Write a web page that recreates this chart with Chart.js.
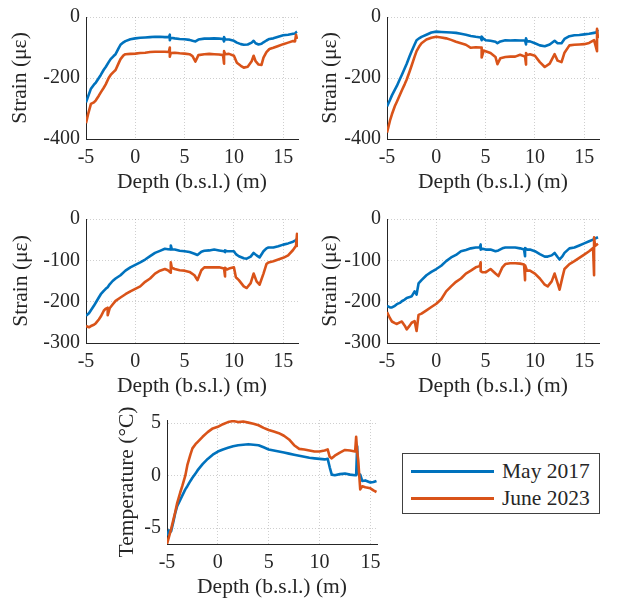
<!DOCTYPE html>
<html>
<head>
<meta charset="utf-8">
<script src="https://cdn.jsdelivr.net/npm/chart.js@4/dist/chart.umd.min.js"></script>
<style>
    body { margin: 0; background: #fff; }
    #wrap { position: relative; width: 620px; height: 605px; overflow: hidden; }
    canvas { position: absolute; }
    #legend {
        position: absolute; left: 402px; top: 453px; width: 196px; height: 59px;
        border: 1px solid #404040; background: #fff;
        font-family: 'Liberation Serif', serif; font-size: 21.5px; color: #262626;
    }
    .row { position: absolute; left: 0; height: 24px; }
    .row i { position: absolute; left: 8px; top: 11px; width: 83px; height: 2.5px; }
    .row span { position: absolute; left: 99px; top: 0; line-height: 24px; white-space: nowrap; }
</style>
</head>
<body>
<div id="wrap">
    <canvas id="c1"></canvas>
    <canvas id="c2"></canvas>
    <canvas id="c3"></canvas>
    <canvas id="c4"></canvas>
    <canvas id="c5"></canvas>
    <div id="legend">
        <div class="row" style="top:5px"><i style="background:#0072BD"></i><span>May 2017</span></div>
        <div class="row" style="top:32px"><i style="background:#D95319"></i><span>June 2023</span></div>
    </div>
</div>
<script>
const seriesNames = ['May 2017', 'June 2023'];

// panel 1 (top left), strain
const depth1 = [-5, -4.8, -4.5, -4.2, -4, -3.7, -3.5, -3.2, -3, -2.7, -2.5, -2.2, -2, -1.7, -1.5, -1.2, -1, -0.5, 0, 0.5, 1, 1.5, 2, 2.5, 3, 3.4, 3.5, 3.5, 3.6, 4, 4.5, 5, 5.5, 5.8, 6.1, 6.4, 7, 7.5, 8, 8.5, 8.9, 9, 9, 9.1, 9.5, 10, 10.3, 10.7, 11, 11.4, 11.8, 12, 12.2, 12.5, 12.8, 13, 13.3, 13.6, 14, 14.5, 15, 15.5, 16, 16.2, 16.3, 16.4];
const may1 = [-280, -262, -235, -222, -215, -200, -190, -173, -164, -148, -138, -128, -122, -103, -91, -83, -79, -73, -70, -68, -67, -66, -65, -65, -66, -66, -58, -76, -68, -70, -72, -73, -75, -78, -80, -74, -71, -71, -70, -71, -72, -80, -66, -73, -74, -78, -84, -89, -91, -90, -84, -78, -86, -90, -88, -83, -77, -72, -70, -65, -60, -58, -55, -54, -50, -48];
const june1 = [-348, -320, -285, -280, -273, -258, -247, -232, -221, -200, -190, -180, -174, -152, -138, -126, -122, -121, -120, -118, -117, -115, -114, -114, -114, -115, -100, -130, -118, -117, -119, -120, -122, -128, -146, -125, -122, -121, -122, -123, -125, -153, -112, -122, -121, -127, -150, -160, -166, -163, -145, -127, -145, -156, -157, -133, -115, -105, -101, -95, -89, -84, -79, -80, -58, -72];

// panel 2 (top right), strain
const depth2 = [-5, -4.7, -4.5, -4.2, -4, -3.7, -3.5, -3.2, -3, -2.7, -2.5, -2.2, -2, -1.7, -1.5, -1, -0.5, 0, 0.5, 1, 1.5, 2, 2.5, 3, 3.5, 4, 4.5, 4.6, 4.6, 4.8, 5, 5.5, 6, 6.2, 6.5, 7, 7.5, 8, 8.5, 9, 9.1, 9.1, 9.2, 9.5, 10, 10.5, 11, 11.5, 12, 12.3, 12.7, 13, 13.5, 14, 14.5, 15, 15.5, 16, 16.3, 16.3, 16.4];
const may2 = [-293, -272, -257, -238, -226, -204, -190, -168, -153, -128, -112, -90, -76, -69, -65, -58, -51, -48, -49, -50, -51, -52, -55, -58, -62, -65, -67, -76, -64, -72, -76, -78, -81, -86, -80, -76, -77, -76, -77, -77, -90, -70, -79, -80, -86, -93, -96, -90, -78, -86, -86, -72, -63, -60, -59, -57, -55, -52, -50, -44, -48];
const june2 = [-379, -340, -319, -292, -278, -256, -241, -220, -205, -178, -159, -130, -112, -95, -86, -74, -68, -65, -67, -70, -75, -81, -86, -91, -101, -99, -100, -100, -133, -110, -112, -118, -131, -155, -135, -131, -130, -130, -124, -130, -156, -118, -125, -122, -127, -148, -164, -153, -122, -143, -148, -117, -93, -91, -90, -89, -85, -76, -112, -39, -70];

// panel 3 (middle left), strain
const depth3 = [-5, -4.7, -4.5, -4.2, -4, -3.7, -3.5, -3.2, -3, -2.8, -2.8, -2.6, -2.3, -2, -1.5, -1, -0.5, 0, 0.5, 1, 1.5, 2, 2.5, 3, 3.3, 3.6, 3.6, 3.7, 4, 4.5, 5, 5.5, 6, 6.3, 6.7, 7, 7.5, 8, 8.5, 9, 9.1, 9.1, 9.3, 9.5, 10, 10.2, 10.5, 11, 11.3, 11.7, 12, 12.3, 12.6, 13, 13.3, 13.5, 14, 14.5, 15, 15.5, 16, 16.3, 16.4, 16.4, 16.5];
const may3 = [-234, -228, -221, -210, -202, -190, -182, -174, -169, -165, -165, -158, -150, -144, -136, -125, -117, -111, -105, -98, -90, -82, -77, -72, -73, -74, -64, -73, -74, -77, -78, -80, -84, -87, -79, -77, -76, -74, -76, -78, -80, -76, -78, -78, -78, -85, -90, -95, -96, -91, -82, -88, -93, -78, -71, -69, -69, -66, -62, -59, -55, -51, -48, -48, -47];
const june3 = [-259, -262, -259, -256, -252, -243, -236, -222, -217, -215, -233, -216, -207, -198, -190, -182, -175, -169, -163, -152, -144, -132, -125, -121, -124, -130, -105, -118, -121, -124, -125, -128, -136, -148, -124, -117, -117, -117, -117, -120, -139, -118, -122, -120, -117, -141, -148, -163, -167, -155, -132, -151, -159, -132, -109, -105, -102, -98, -94, -88, -75, -65, -36, -65, -60];

// panel 4 (middle right), strain
const depth4 = [-5, -4.7, -4.5, -4.2, -4, -3.7, -3.5, -3.2, -3, -2.7, -2.5, -2.2, -2, -1.8, -1.5, -1, -0.5, 0, 0.5, 1, 1.5, 2, 2.5, 3, 3.5, 4, 4.4, 4.5, 4.5, 4.7, 5, 5.5, 6, 6.3, 6.7, 7, 7.5, 8, 8.5, 8.9, 9, 9, 9.2, 9.5, 10, 10.5, 11, 11.3, 11.7, 12, 12.3, 12.5, 12.8, 13, 13.5, 14, 14.5, 15, 15.5, 15.9, 16, 16, 16.1, 16.4];
const may4 = [-210, -214, -214, -210, -206, -203, -199, -195, -191, -189, -187, -175, -183, -156, -148, -136, -128, -121, -113, -102, -93, -87, -78, -75, -71, -69, -69, -62, -74, -72, -74, -74, -78, -76, -71, -69, -69, -69, -71, -74, -90, -70, -74, -74, -78, -85, -91, -91, -88, -82, -92, -98, -90, -82, -71, -69, -64, -59, -54, -50, -48, -48, -47, -44];
const june4 = [-225, -240, -248, -252, -254, -250, -248, -258, -267, -258, -251, -247, -271, -232, -229, -221, -213, -205, -194, -175, -163, -152, -144, -132, -125, -117, -114, -105, -126, -129, -129, -121, -132, -138, -117, -109, -107, -107, -108, -110, -148, -112, -125, -125, -132, -144, -159, -163, -151, -132, -155, -171, -140, -121, -109, -102, -94, -86, -78, -70, -136, -44, -65, -60];

// panel 5 (bottom), temperature
const depth5 = [-5, -4.8, -4.6, -4.4, -4.2, -4, -3.7, -3.5, -3.2, -3, -2.7, -2.5, -2.2, -2, -1.5, -1, -0.5, 0, 0.5, 1, 1.5, 2, 2.5, 3, 3.5, 4, 4.5, 5, 5.5, 6, 6.5, 7, 7.5, 8, 8.5, 9, 9.5, 10, 10.5, 10.8, 11, 11.2, 11.5, 12, 12.5, 13, 13.5, 13.6, 13.7, 13.8, 14, 14.2, 14.5, 15, 15.3, 15.6];
const may5 = [-5.7, -5.2, -5.3, -4.5, -3.6, -2.9, -2.3, -1.9, -1.3, -1.0, -0.5, -0.2, 0.2, 0.5, 1.1, 1.6, 2.0, 2.3, 2.5, 2.65, 2.8, 2.9, 2.95, 3.0, 2.95, 2.9, 2.7, 2.5, 2.4, 2.3, 2.2, 2.1, 2.0, 1.9, 1.8, 1.7, 1.65, 1.6, 1.55, 1.6, 0.8, 0.1, 0.05, 0.15, 0.2, 0.1, 0.05, 0.05, 2.8, 0.2, 0.1, -0.5, -0.45, -0.65, -0.6, -0.5];
const june5 = [-6.5, -5.8, -5.1, -4.3, -3.5, -2.6, -1.6, -1.0, 0.0, 1.0, 2.0, 2.6, 3.0, 3.2, 3.7, 4.15, 4.5, 4.65, 4.9, 5.1, 5.2, 5.1, 5.15, 5.05, 4.95, 4.8, 4.55, 4.35, 4.2, 4.05, 3.8, 3.45, 2.9, 2.55, 2.5, 2.4, 2.3, 2.3, 2.4, 2.5, 1.8, 1.65, 1.9, 2.2, 2.45, 2.4, 2.3, 3.7, 2.3, 1.5, -1.3, -1.0, -1.1, -1.2, -1.4, -1.55];

const xTicksStep = 5;
const strainTitle = 'Strain (με)';
const tempTitle = 'Temperature (°C)';
const depthTitle = 'Depth (b.s.l.) (m)';

const BLUE = '#0072BD';
const ORANGE = '#D95319';
const AXIS = '#262626';

Chart.defaults.font.family = "'Liberation Serif', 'Times New Roman', serif";
Chart.defaults.font.size = 20;
Chart.defaults.color = AXIS;

const YW = 86, PT = 12, PR = 14, XH = 62;
const TITLE_SIZE = 21.5;
const LH = TITLE_SIZE * 1.2;

const toPoints = (xs, ys) => xs.map((x, i) => ({ x: x, y: ys[i] }));

function makePanel(id, box, depth, may, june, xr, yr, yStep, yTitle, yTitleX) {
    const canvas = document.getElementById(id);
    const left = box.l - YW;
    const top = box.t - PT;
    const w = Math.round(box.r - box.l + YW + PR);
    const h = Math.round(box.b - box.t + PT + XH);
    canvas.style.left = left + 'px';
    canvas.style.top = top + 'px';
    canvas.width = w;
    canvas.height = h;
    canvas.style.width = w + 'px';
    canvas.style.height = h + 'px';

    return new Chart(canvas.getContext('2d'), {
        type: 'line',
        data: {
            datasets: [
                { label: seriesNames[1], data: toPoints(depth, june), borderColor: ORANGE },
                { label: seriesNames[0], data: toPoints(depth, may), borderColor: BLUE }
            ]
        },
        options: {
            responsive: false,
            animation: false,
            devicePixelRatio: 1,
            layout: { padding: { left: 0, top: PT, right: PR, bottom: 0 } },
            elements: {
                point: { radius: 0 },
                line: { borderWidth: 2.6, tension: 0, fill: false, borderJoinStyle: 'round' }
            },
            plugins: { legend: { display: false }, tooltip: { enabled: false } },
            scales: {
                x: {
                    type: 'linear',
                    min: xr[0],
                    max: xr[1],
                    afterFit: s => { s.height = XH; },
                    ticks: { stepSize: xTicksStep, includeBounds: false, padding: 7 },
                    grid: { color: 'rgba(38,38,38,0.22)', drawTicks: false },
                    border: { color: AXIS, width: 1, dash: [1, 2] },
                    title: { display: true, text: depthTitle, font: { size: TITLE_SIZE }, padding: { top: 0, bottom: XH - LH / 2 - 43.5 } }
                },
                y: {
                    type: 'linear',
                    min: yr[0],
                    max: yr[1],
                    afterFit: s => { s.width = YW; },
                    ticks: { stepSize: yStep, includeBounds: false, padding: 6 },
                    grid: { color: 'rgba(38,38,38,0.22)', drawTicks: false },
                    border: { color: AXIS, width: 1, dash: [1, 2] },
                    title: { display: true, text: yTitle, font: { size: TITLE_SIZE }, padding: { top: yTitleX - left - LH / 2, bottom: 0 } }
                }
            }
        }
    });
}

makePanel('c1', { l: 86, t: 11, r: 298, b: 139 }, depth1, may1, june1, [-5, 16.5], [-400, 0], 200, strainTitle, 20.5);
makePanel('c2', { l: 387, t: 11, r: 598.5, b: 139 }, depth2, may2, june2, [-5, 16.5], [-400, 0], 200, strainTitle, 330);
makePanel('c3', { l: 86, t: 212.7, r: 298, b: 342.7 }, depth3, may3, june3, [-5, 16.5], [-300, 0], 100, strainTitle, 21);
makePanel('c4', { l: 387, t: 212.7, r: 598.7, b: 342.7 }, depth4, may4, june4, [-5, 16.5], [-300, 0], 100, strainTitle, 330);
makePanel('c5', { l: 166.7, t: 414, r: 376.7, b: 544.3 }, depth5, may5, june5, [-5, 15.65], [-6.5, 5.3], 5, tempTitle, 126.6);
</script>
</body>
</html>
